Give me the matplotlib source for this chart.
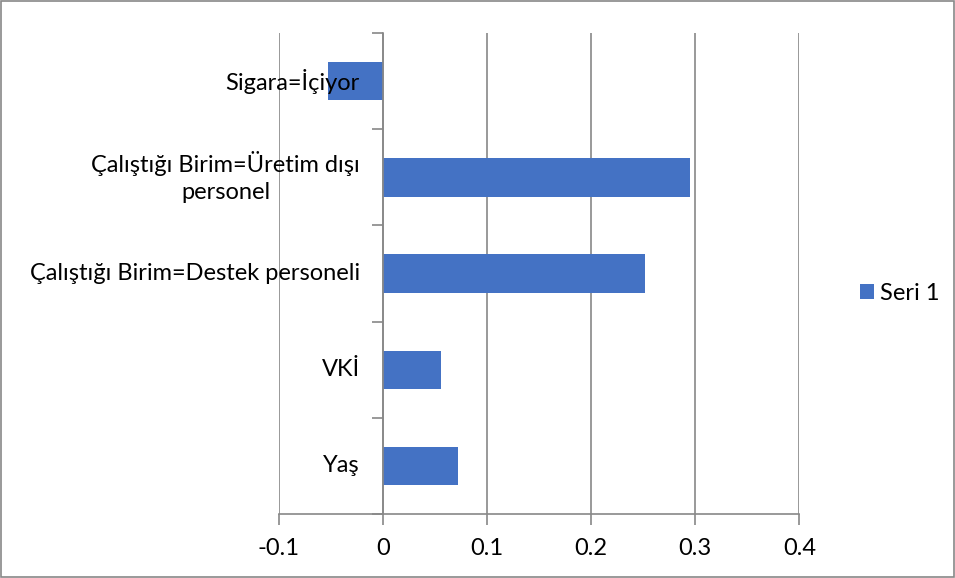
import matplotlib.pyplot as plt
import matplotlib.transforms as mtransforms
import numpy as np

categories = ['Yaş', 'VKİ', 'Çalıştığı Birim=Destek personeli',
              'Çalıştığı Birim=Üretim dışı\npersonel', 'Sigara=İçiyor']
values = [0.072, 0.056, 0.252, 0.295, -0.053]
series_name = 'Seri 1'
xticks = [-0.1, 0, 0.1, 0.2, 0.3, 0.4]

plt.rcParams['font.family'] = ['Lato', 'DejaVu Sans']

fig = plt.figure(figsize=(9.55, 5.78), dpi=100)
ax = fig.add_axes([0.292, 0.1107, 0.545, 0.832])

pos = np.arange(len(categories))
ax.barh(pos, values, height=0.4, color='#4472C4', label=series_name, zorder=3)

ax.set_xlim(-0.1, 0.4)
ax.set_ylim(-0.5, len(categories) - 0.5)
ax.set_xticks(xticks)
ax.set_xticklabels(['-0.1', '0', '0.1', '0.2', '0.3', '0.4'], fontsize=17)
ax.xaxis.grid(True, color='#888888', linewidth=1.2, zorder=0)
ax.tick_params(axis='x', length=8, color='#888888', width=1.2, pad=9)

# y axis sits at x = 0
ax.spines['left'].set_position(('data', 0))
ax.spines['left'].set_color('#888888')
ax.spines['left'].set_linewidth(1.2)
ax.spines['left'].set_zorder(4)
ax.spines['bottom'].set_color('#888888')
ax.spines['bottom'].set_linewidth(1.2)
ax.spines['top'].set_visible(False)
ax.spines['right'].set_visible(False)

ax.set_yticks([])
ax.set_yticks(np.arange(len(categories) + 1) - 0.5, minor=True)
ax.tick_params(axis='y', which='minor', length=8, color='#888888', width=1.2)
ax.set_yticklabels([], minor=True)

# category labels drawn on top of the bars, right-aligned left of x = 0
offset = mtransforms.ScaledTranslation(-23 / 100, 0, fig.dpi_scale_trans)
for p, name in zip(pos, categories):
    ax.text(0, p, name, transform=ax.transData + offset, ha='right', va='center',
            multialignment='center', fontsize=17, linespacing=1.35, zorder=5,
            clip_on=False)

fig.legend(loc='center left', bbox_to_anchor=(0.878, 0.493), frameon=False,
           fontsize=17, handlelength=0.6, handleheight=0.6, handletextpad=0.25)

fig.patches.append(plt.Rectangle((0.001, 0.001), 0.998, 0.997, transform=fig.transFigure,
                                 fill=False, edgecolor='#888888', linewidth=1.2))

fig.savefig('out.png', dpi=100)
